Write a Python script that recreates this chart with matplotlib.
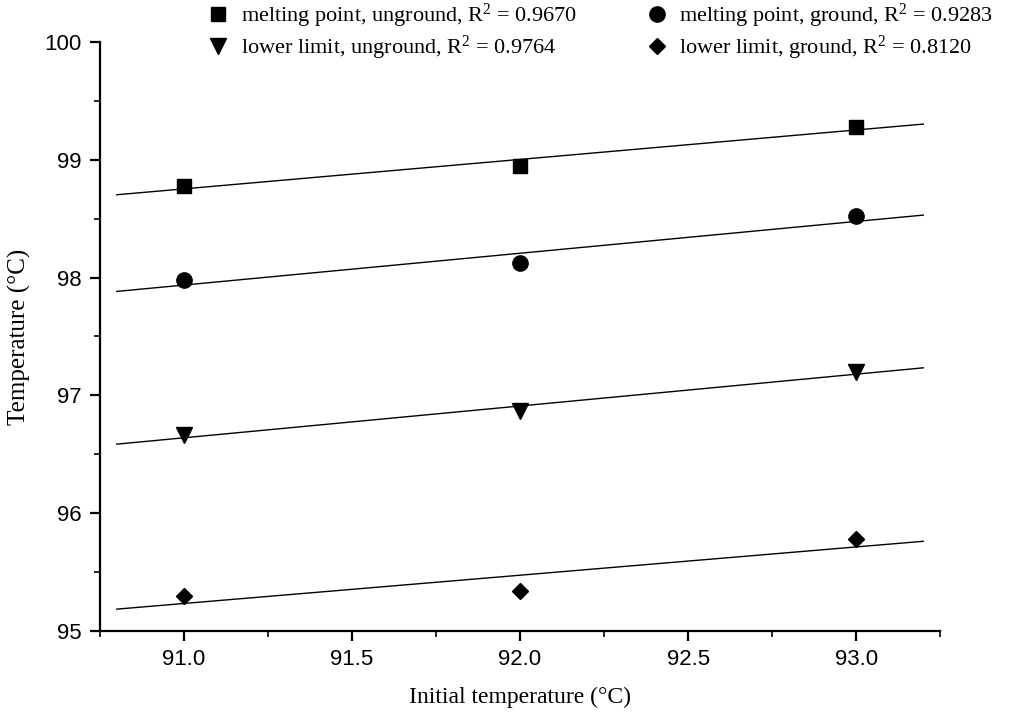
import numpy as np
import matplotlib
matplotlib.use('Agg')
import matplotlib.pyplot as plt

plt.rcParams['mathtext.fontset'] = 'custom'
plt.rcParams['mathtext.rm'] = 'Liberation Serif'
plt.rcParams['mathtext.it'] = 'Liberation Serif'

# initial temperatures and measured temperatures (deg C)
x_init = [91.0, 92.0, 93.0]
mp_unground = [98.78, 98.95, 99.28]
mp_ground = [97.98, 98.12, 98.52]
ll_unground = [96.66, 96.87, 97.20]
ll_ground = [95.30, 95.34, 95.78]

labels = ['melting point, unground, R$^{2}$ = 0.9670',
          'lower limit, unground, R$^{2}$ = 0.9764',
          'melting point, ground, R$^{2}$ = 0.9283',
          'lower limit, ground, R$^{2}$ = 0.8120']
series = [mp_unground, ll_unground, mp_ground, ll_ground]
markers = ['s', 'v', 'o', 'D']
msizes = [10, 11, 11, 8]

fit_x = np.array([90.8, 93.2])

fig = plt.figure(figsize=(10.11, 7.17), dpi=100)
ax = fig.add_axes([0.0989, 0.120, 0.831, 0.8214])

handles = []
for y, m, ms, lab in zip(series, markers, msizes, labels):
    k, b = np.polyfit(x_init, y, 1)
    ax.plot(fit_x, k * fit_x + b, color='black', lw=1.0)
    h, = ax.plot(x_init, y, linestyle='none', marker=m, ms=ms, color='black', label=lab)
    handles.append(h)

ax.set_xlim(90.75, 93.25)
ax.set_ylim(95, 100)
ax.set_xticks([91.0, 91.5, 92.0, 92.5, 93.0])
ax.set_xticklabels(['91.0', '91.5', '92.0', '92.5', '93.0'])
ax.set_xticks(np.arange(90.75, 93.3, 0.25), minor=True)
ax.set_yticks([95, 96, 97, 98, 99, 100])
ax.set_yticks(np.arange(95, 100.01, 0.5), minor=True)

for s in ['top', 'right']:
    ax.spines[s].set_visible(False)
for s in ['left', 'bottom']:
    ax.spines[s].set_linewidth(1.6)

ax.tick_params(which='major', direction='out', length=7, width=1.6, labelsize=16, pad=6)
ax.tick_params(which='minor', direction='out', length=4, width=1.2)
for t in ax.get_xticklabels() + ax.get_yticklabels():
    t.set_family('Liberation Sans')

ax.set_xlabel('Initial temperature (°C)', family='Liberation Serif', fontsize=17, labelpad=12)
ax.set_ylabel('Temperature (°C)', family='Liberation Serif', fontsize=18, labelpad=10)

leg = fig.legend(handles=handles, ncol=2, loc='upper left', bbox_to_anchor=(0.205, 0.998),
                 frameon=False, prop={'family': 'Liberation Serif', 'size': 16},
                 borderpad=0, borderaxespad=0,
                 handlelength=1.0, handletextpad=0.5, columnspacing=3.1, labelspacing=0.2)

fig.savefig('out.png', dpi=100)
